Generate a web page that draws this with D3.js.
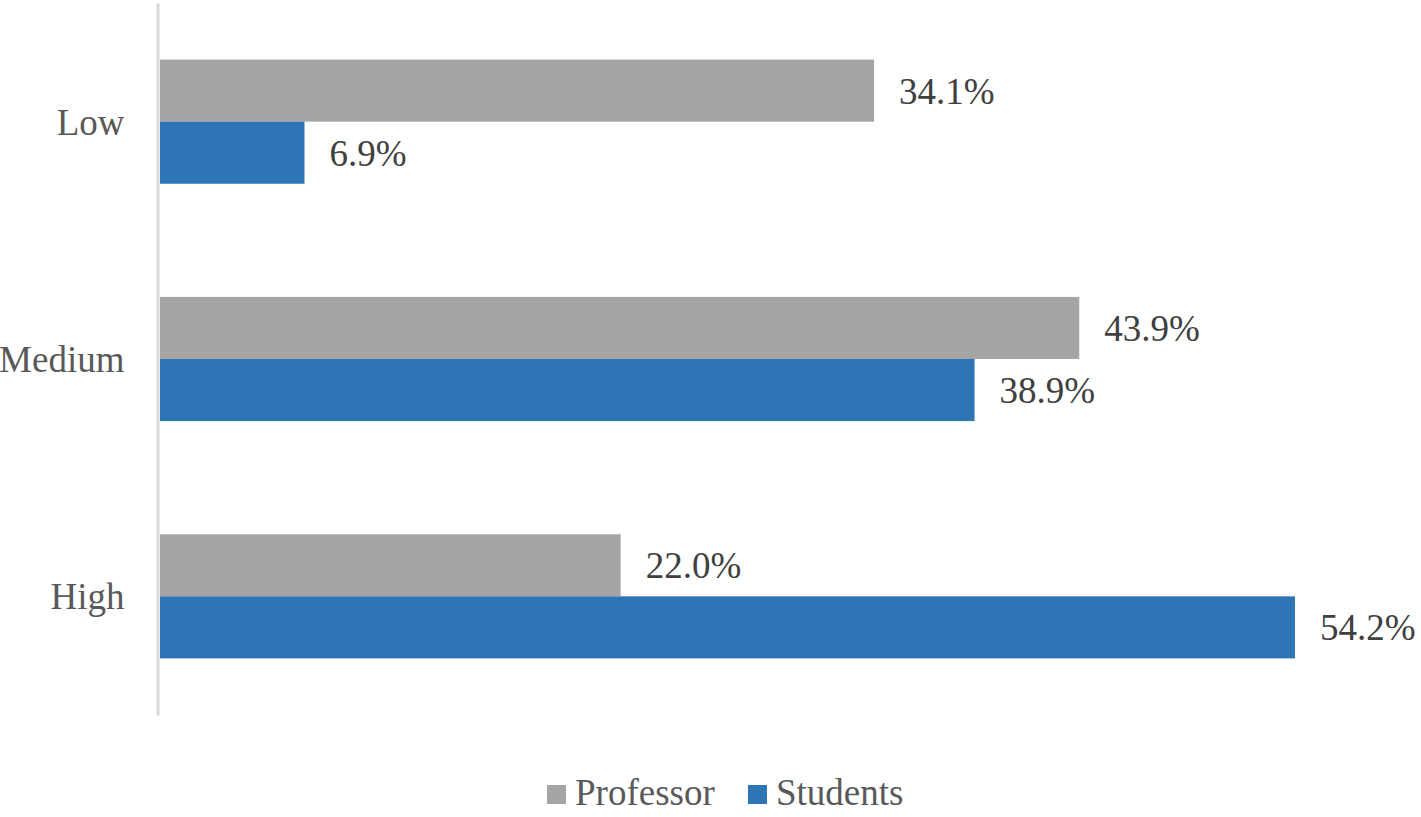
<!DOCTYPE html>
<html>
<head>
<meta charset="utf-8">
<script src="https://cdn.jsdelivr.net/npm/d3@7"></script>
<style>
	body { margin: 0; background: #fff; }
</style>
</head>
<body>
<div id="graph"></div>
<script>
// chart data
var categories = ["Low", "Medium", "High"];
var seriesNames = ["Professor", "Students"];
var professor = [34.1, 43.9, 22.0];
var students = [6.9, 38.9, 54.2];

var serifFont = "'Liberation Serif', 'DejaVu Serif', serif";

var	SVGwidth = 1421,
	SVGheight = 817;

var svg = d3.select('div#graph')
				.append('svg')
				.attr('width', SVGwidth)
				.attr('height', SVGheight);

var x = d3.scaleLinear()
			.domain([0, 60])
			.range([160, 1416.4]);

var y = d3.scaleBand()
			.domain(categories)
			.range([3, 715])
			.paddingInner(0.477)
			.paddingOuter(0.2385);

var ySub = d3.scaleBand()
			.domain(seriesNames)
			.range([0, y.bandwidth()]);

var color = d3.scaleOrdinal()
	.domain(seriesNames)
	.range(["#A5A5A5", "#2E75B6"]);

var rows = [];
categories.forEach(function(c, i){
	rows.push({cat: c, series: "Professor", value: professor[i]});
	rows.push({cat: c, series: "Students", value: students[i]});
});

// vertical axis
var yAxis = d3.axisLeft(y)
			.tickSize(0)
			.tickSizeOuter(0)
			.tickPadding(33);

var axisG = svg.append("g")
	.attr("transform", "translate(157.5,0)")
	.call(yAxis);

axisG.select(".domain")
	.attr("stroke", "#D9D9D9")
	.attr("stroke-width", 3);

axisG.selectAll(".tick text")
	.style("font-family", serifFont)
	.attr("font-size", 37)
	.attr("fill", "#595959")
	.attr("dy", "0.35em");

// bars
svg.selectAll("rect.bar")
	.data(rows)
	.enter()
	.append("rect")
	.attr("class", "bar")
	.attr("x", x(0))
	.attr("y", function(d) { return y(d.cat) + ySub(d.series); })
	.attr("width", function(d) { return x(d.value) - x(0); })
	.attr("height", ySub.bandwidth())
	.attr("fill", function(d) { return color(d.series); });

// value labels
svg.selectAll("text.val")
	.data(rows)
	.enter()
	.append("text")
	.attr("class", "val")
	.attr("x", function(d) { return x(d.value) + 25; })
	.attr("y", function(d) { return y(d.cat) + ySub(d.series) + ySub.bandwidth() / 2; })
	.attr("dy", "0.35em")
	.style("font-family", serifFont)
	.attr("font-size", 37)
	.attr("fill", "#404040")
	.text(function(d) { return d.value.toFixed(1) + "%"; });

// legend
var legendX = [547, 748];
var legend = svg.selectAll("g.legend")
	.data(seriesNames)
	.enter()
	.append("g")
	.attr("class", "legend")
	.attr("transform", function(d, i) { return "translate(" + legendX[i] + ",785)"; });

legend.append("rect")
	.attr("width", 19)
	.attr("height", 19)
	.attr("fill", function(d) { return color(d); });

legend.append("text")
	.attr("x", 28)
	.attr("y", 20)
	.style("font-family", serifFont)
	.attr("font-size", 37)
	.attr("fill", "#595959")
	.text(function(d) { return d; });
</script>
</body>
</html>
